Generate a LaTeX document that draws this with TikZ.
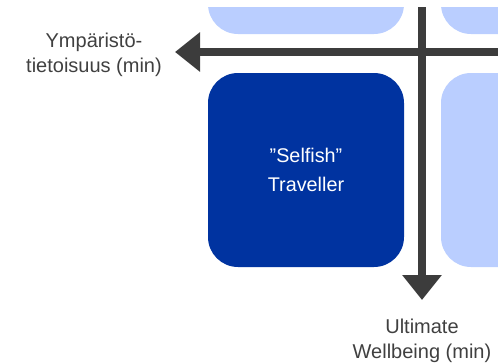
\documentclass[tikz,border=0pt]{standalone}
\usepackage{fontspec}
\setmainfont{Liberation Sans}
\usetikzlibrary{arrows.meta}
\definecolor{darkblue}{HTML}{0033A0}
\definecolor{lightblue}{HTML}{BACEFF}
\definecolor{axisgray}{HTML}{3C3C3C}
\definecolor{labelgray}{HTML}{404040}
\tikzset{
  quad/.style={rectangle, rounded corners=30pt, minimum width=196pt, minimum height=194pt, inner sep=0pt},
  darkquad/.style={quad, fill=darkblue, text=white, align=center, font=\fontsize{19.8}{29}\selectfont},
  lightquad/.style={quad, fill=lightblue},
  axis/.style={draw=axisgray, line width=8pt, -{Triangle[length=25pt,width=38pt]}},
  axislabel/.style={text=labelgray, align=center, font=\fontsize{20}{25}\selectfont, inner sep=0pt}
}
\begin{document}
\begin{tikzpicture}[x=1pt,y=-1pt]
\useasboundingbox (0,0) rectangle (498,364);
\begin{scope}
\clip (0,7) rectangle (498,364);
\node[lightquad] (tl) at (306,-63) {};
\node[lightquad] (tr) at (539,-63) {};
\node[darkquad] (selfish) at (306,170) {"Selfish"\\Traveller};
\node[lightquad] (br) at (539,170) {};
\coordinate (hstart) at (500,52);
\coordinate (htip) at (175,52);
\coordinate (vstart) at (422,5);
\coordinate (vtip) at (422,300);
\draw[axis] (hstart) -- (htip);
\draw[axis] (vstart) -- (vtip);
\end{scope}
\node[axislabel] (ymp) at (94,55) {Ympäristö-\\tietoisuus (min)};
\node[axislabel] (ult) at (422,341) {Ultimate\\Wellbeing (min)};
\end{tikzpicture}
\end{document}
